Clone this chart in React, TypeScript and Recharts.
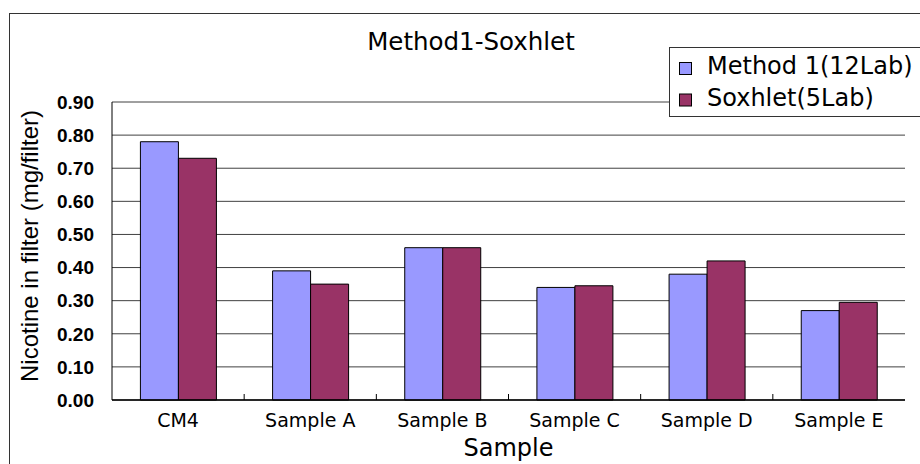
import { BarChart, Bar, XAxis, YAxis, CartesianGrid, Legend } from 'recharts';

const categories = ['CM4', 'Sample A', 'Sample B', 'Sample C', 'Sample D', 'Sample E'];
const method1 = [0.78, 0.39, 0.46, 0.34, 0.38, 0.27];
const soxhlet = [0.73, 0.35, 0.46, 0.345, 0.42, 0.295];
const yTicks = [0, 0.1, 0.2, 0.3, 0.4, 0.5, 0.6, 0.7, 0.8, 0.9];

const W = 920;
const H = 464;
const MARGIN = { top: 102, right: 15, bottom: 0, left: 0 };
const Y_AXIS_W = 112;
const X_AXIS_H = 64;
const PLOT_BOTTOM = H - X_AXIS_H;
const BAND = (W - MARGIN.right - Y_AXIS_W) / categories.length;

const SANS = 'DejaVu Sans';
const ARIAL = 'Liberation Sans, Arial';

const data = categories.map((name, i) => ({ name, m1: method1[i], sox: soxhlet[i] }));

// category label + the small inside tick between categories (Excel style)
const CategoryTick = (props: any) => {
  const { x, y, payload, index } = props;
  return (
    <g>
      {index > 0 && (
        <line x1={x - BAND / 2} x2={x - BAND / 2} y1={PLOT_BOTTOM} y2={PLOT_BOTTOM - 6} stroke="#000" />
      )}
      <text x={x} y={y} dy="0.71em" textAnchor="middle" fontFamily={SANS} fontSize={19} fill="#000">
        {payload.value}
      </text>
    </g>
  );
};

const renderYLabel = (props: any) => {
  const vb = props.viewBox;
  const cx = 38;
  const cy = vb.y + vb.height / 2 - 5;
  return (
    <text
      x={cx}
      y={cy}
      transform={`rotate(-90 ${cx} ${cy})`}
      textAnchor="middle"
      fontFamily={ARIAL}
      fontSize={24}
      fill="#000"
    >
      Nicotine in filter (mg/filter)
    </text>
  );
};

const renderLegend = (props: any) => {
  const items = props.payload ?? [];
  return (
    <svg width={260} height={72} style={{ display: 'block' }}>
      <rect x={0.5} y={0.5} width={300} height={69} fill="#fff" stroke="#333" />
      {items.map((it: any, i: number) => (
        <g key={it.value}>
          <rect x={10.5} y={15.5 + i * 31.5} width={12} height={12} fill={it.color} stroke="#000" />
          <text x={38} y={26.5 + i * 32.5} fontFamily={SANS} fontSize={24} fill="#000">
            {it.value}
          </text>
        </g>
      ))}
    </svg>
  );
};

export default function App() {
  return (
    <div style={{ position: 'absolute', left: 0, top: 0, width: W, height: H, overflow: 'hidden', background: '#fff' }}>
      <svg width={W} height={H} style={{ position: 'absolute', left: 0, top: 0 }}>
        <rect x={9.5} y={13.5} width={W} height={H} fill="none" stroke="#333" />
        <text x={471} y={50} textAnchor="middle" fontFamily={SANS} fontSize={24.5} fill="#000">
          Method1-Soxhlet
        </text>
      </svg>
      <div style={{ position: 'absolute', left: 0, top: 0 }}>
        <BarChart width={W} height={H} data={data} margin={MARGIN} barCategoryGap="21.5%" barGap={0}>
          <CartesianGrid vertical={false} stroke="#404040" />
          <XAxis
            dataKey="name"
            height={X_AXIS_H}
            interval={0}
            tickLine={false}
            tickMargin={7.5}
            axisLine={{ stroke: '#000', strokeWidth: 1.5 }}
            tick={<CategoryTick />}
            label={{ value: 'Sample', position: 'insideBottom', offset: 8, fontFamily: SANS, fontSize: 24, fill: '#000' }}
          />
          <YAxis
            width={Y_AXIS_W}
            domain={[0, 0.9]}
            ticks={yTicks}
            interval={0}
            tickLine={false}
            tickMargin={12}
            axisLine={{ stroke: '#000' }}
            tickFormatter={(v: number) => v.toFixed(2)}
            tick={{ fontFamily: ARIAL, fontWeight: 'bold', fontSize: 19, fill: '#000' }}
            label={renderYLabel}
          />
          <YAxis
            yAxisId="r"
            orientation="right"
            width={0}
            domain={[0, 0.9]}
            tick={false}
            tickLine={false}
            axisLine={{ stroke: '#808080' }}
          />
          <Legend
            layout="vertical"
            align="center"
            verticalAlign="middle"
            wrapperStyle={{ left: 669, top: 47, width: 260, height: 72 }}
            content={renderLegend}
          />
          <Bar dataKey="m1" name="Method 1(12Lab)" fill="#9999FF" stroke="#000" strokeWidth={1} isAnimationActive={false} />
          <Bar dataKey="sox" name="Soxhlet(5Lab)" fill="#993366" stroke="#000" strokeWidth={1} isAnimationActive={false} />
        </BarChart>
      </div>
    </div>
  );
}
